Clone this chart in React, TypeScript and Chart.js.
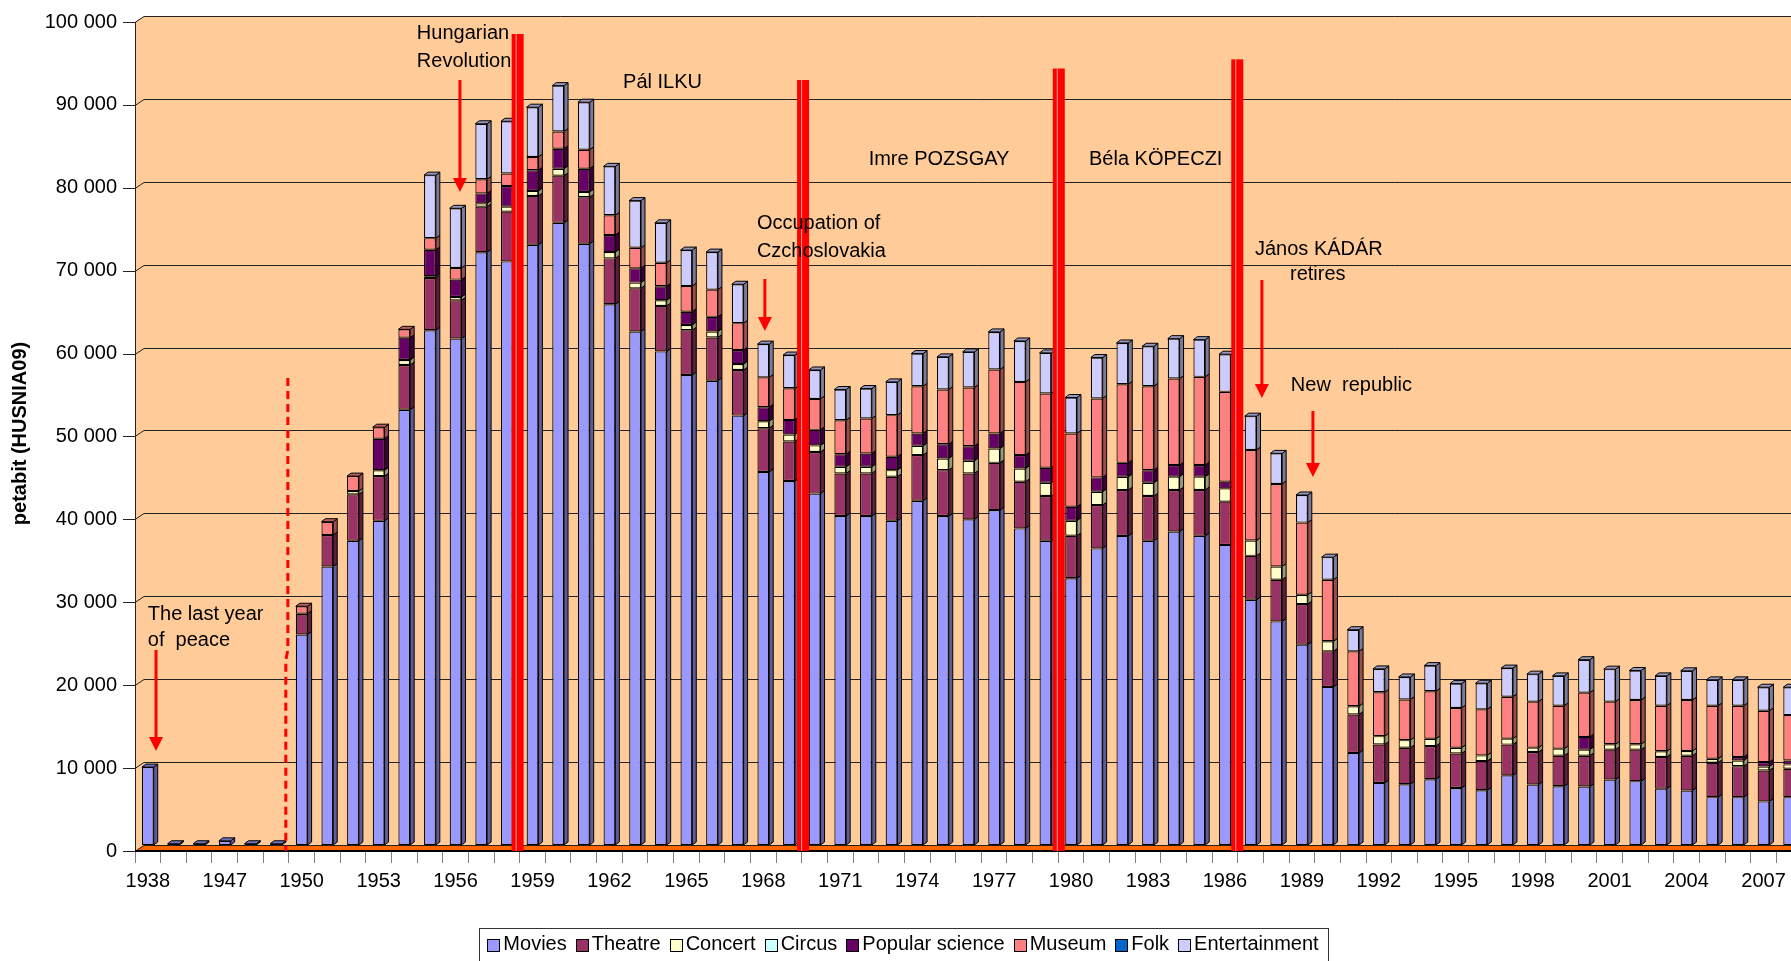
import React, { useEffect, useRef } from 'react';
import { Chart, registerables } from 'chart.js';

Chart.register(...registerables);

// ---------- data ----------
const categories = [
  '1938', '1945', '1946', '1947', '1948', '1949',
  '1950', '1951', '1952', '1953', '1954', '1955', '1956', '1957', '1958', '1959',
  '1960', '1961', '1962', '1963', '1964', '1965', '1966', '1967', '1968', '1969',
  '1970', '1971', '1972', '1973', '1974', '1975', '1976', '1977', '1978', '1979',
  '1980', '1981', '1982', '1983', '1984', '1985', '1986', '1987', '1988', '1989',
  '1990', '1991', '1992', '1993', '1994', '1995', '1996', '1997', '1998', '1999',
  '2000', '2001', '2002', '2003', '2004', '2005', '2006', '2007', '2008',
];

const movies = [
  9400, 150, 150, 500, 150, 150,
  25400, 33600, 36700, 39100, 52500, 62100, 61100, 71500, 70400, 72400,
  75050, 72530, 65230, 61940, 59540, 56690, 56010, 51800, 44990, 43910,
  42390, 39680, 39680, 39120, 41530, 39680, 39280, 40400, 38190, 36700,
  32170, 35780, 37270, 36700, 37810, 37290, 36200, 29580, 26970, 24170,
  19070, 11100, 7490, 7330, 7940, 6880, 6600, 8400, 7300, 7090,
  7050, 7900, 7700, 6800, 6580, 5770, 5770, 5260, 5770,
];

const theatre = [
  0, 0, 0, 0, 0, 0,
  2500, 3800, 5600, 5400, 5400, 6300, 4600, 5500, 6000, 5900,
  5690, 5610, 5530, 5210, 5490, 5410, 5210, 5490, 5290, 4770,
  5010, 5140, 5140, 5300, 5500, 5540, 5540, 5700, 5630, 5390,
  5140, 5220, 5540, 5390, 5010, 5530, 5220, 5300, 5020, 4890,
  4290, 4640, 4640, 4400, 3990, 4160, 3520, 3710, 3910, 3680,
  3720, 3600, 3800, 3810, 4190, 4150, 3740, 3730, 3420,
];

const concert = [
  0, 0, 0, 0, 0, 0,
  0, 0, 400, 700, 600, 200, 400, 400, 600, 600,
  840, 640, 760, 690, 680, 630, 720, 720, 840, 840,
  800, 800, 800, 800, 1120, 1410, 1530, 1730, 1600, 1600,
  1810, 1610, 1610, 1600, 1610, 1610, 1600, 1850, 1610, 1120,
  1210, 1000, 1000, 920, 880, 690, 690, 720, 530, 850,
  730, 650, 650, 690, 570, 480, 690, 480, 530,
];

const circus = [
  0, 0, 0, 0, 0, 0,
  0, 0, 0, 0, 0, 0, 0, 0, 0, 0,
  0, 0, 0, 0, 0, 0, 0, 0, 0, 0,
  0, 0, 0, 0, 0, 0, 0, 0, 0, 0,
  0, 0, 0, 0, 0, 0, 0, 0, 0, 0,
  0, 0, 0, 0, 0, 0, 0, 0, 0, 0,
  0, 0, 0, 0, 0, 0, 0, 0, 0,
];

const popularScience = [
  0, 0, 0, 0, 0, 0,
  0, 0, 0, 3800, 2700, 3200, 2100, 1200, 2500, 2500,
  2410, 2800, 2050, 1720, 1690, 1600, 1770, 1690, 1680, 1760,
  1880, 1530, 1610, 1610, 1490, 1720, 1760, 1810, 1610, 1810,
  1680, 1730, 1680, 1530, 1400, 1400, 810, 0, 0, 0,
  0, 0, 0, 0, 0, 0, 0, 0, 0, 0,
  1540, 0, 0, 0, 0, 0, 410, 530, 480,
];

const museum = [
  0, 0, 0, 0, 0, 0,
  900, 1600, 1800, 1400, 1000, 1400, 1400, 1700, 1500, 1600,
  2080, 2290, 2400, 2480, 2840, 3090, 3280, 3250, 3610, 3810,
  3730, 4090, 4220, 5020, 5700, 6590, 7070, 7710, 8830, 8960,
  8840, 9520, 9480, 10120, 10440, 10640, 10830, 10910, 9950, 8710,
  7420, 6620, 5300, 4900, 5740, 4810, 5550, 5060, 5550, 5180,
  5340, 5140, 5340, 5500, 6150, 6400, 6190, 6190, 5470,
];

const folk = [
  0, 0, 0, 0, 0, 0,
  0, 0, 0, 0, 0, 0, 0, 0, 0, 0,
  0, 0, 0, 0, 0, 0, 0, 0, 0, 0,
  0, 0, 0, 0, 0, 0, 0, 0, 0, 0,
  0, 0, 0, 0, 0, 0, 0, 0, 0, 0,
  0, 0, 0, 0, 0, 0, 0, 0, 0, 0,
  0, 0, 0, 0, 0, 0, 0, 0, 0,
];

const entertainment = [
  0, 0, 0, 0, 0, 0,
  0, 0, 0, 0, 0, 7600, 7200, 6700, 6300, 6000,
  5530, 5730, 5890, 5690, 4810, 4340, 4530, 4690, 4010, 4010,
  3490, 3700, 3610, 4010, 3940, 3940, 4300, 4540, 4940, 4900,
  4340, 4940, 4980, 4820, 4810, 4490, 4540, 4090, 3690, 3330,
  2730, 2610, 2810, 2720, 3090, 2930, 3150, 3450, 3320, 3600,
  3970, 3920, 3560, 3600, 3520, 3120, 3120, 2840, 3360,
];

const seriesNames = ['Movies', 'Theatre', 'Concert', 'Circus', 'Popular science', 'Museum', 'Folk', 'Entertainment'];
const seriesData = [movies, theatre, concert, circus, popularScience, museum, folk, entertainment];
const seriesColors = ['#9999FF', '#993366', '#FFFFCC', '#CCFFFF', '#660066', '#FF8080', '#0066CC', '#CCCCFF'];

const yTicks = [0, 10000, 20000, 30000, 40000, 50000, 60000, 70000, 80000, 90000, 100000];
const yTitle = 'petabit (HUSNIA09)';

// annotations: x in category index units, y in data units
const noteTexts = [
  { text: 'Hungarian', at: 10.49, value: 97950, align: 'left' },
  { text: 'Revolution', at: 10.49, value: 94570, align: 'left' },
  { text: 'Pál ILKU', at: 20.07, value: 92040, align: 'center' },
  { text: 'Imre POZSGAY', at: 30.85, value: 82750, align: 'center' },
  { text: 'Béla KÖPECZI', at: 39.3, value: 82750, align: 'center' },
  { text: 'Occupation of', at: 23.75, value: 75030, align: 'left' },
  { text: 'Czchoslovakia', at: 23.75, value: 71650, align: 'left' },
  { text: 'János KÁDÁR', at: 43.17, value: 71890, align: 'left' },
  { text: 'retires', at: 45.62, value: 68760, align: 'center' },
  { text: 'New  republic', at: 44.57, value: 55370, align: 'left' },
  { text: 'The last year', at: 0.0, value: 27860, align: 'left' },
  { text: 'of  peace', at: 0.0, value: 24610, align: 'left' },
];
const noteArrows = [
  { at: 12.17, from: 92280, to: 78770 },
  { at: 24.06, from: 68270, to: 62000 },
  { at: 43.44, from: 68150, to: 53920 },
  { at: 45.43, from: 52350, to: 44390 },
  { at: 0.32, from: 23520, to: 11340 },
];
const markerBars = [
  { at: 14.42, top: 97830 },
  { at: 25.55, top: 92280 },
  { at: 35.52, top: 93660 },
  { at: 42.48, top: 94770 },
];
const dashedMarker = { at: 5.46, atLow: 5.38, top: 56330, kink: 23520 };

// ---------- styling ----------
const FONT = "'Liberation Sans', Arial, Helvetica, sans-serif";
const Y_MIN = -724;
const Y_MAX = 100000;
const WALL_DX = 9;
const WALL_DY = 6;
const BAR_DX = 4;
const BAR_DY = 3;
const CANVAS_W = 1820;
const CANVAS_H = 980;

function shade(hex: string, f: number): string {
  const n = parseInt(hex.slice(1), 16);
  const r = Math.round(((n >> 16) & 255) * f);
  const g = Math.round(((n >> 8) & 255) * f);
  const b = Math.round((n & 255) * f);
  return `rgb(${r},${g},${b})`;
}

function fmt(v: number): string {
  return String(v).replace(/\B(?=(\d{3})+(?!\d))/g, ' ');
}

const wallPlugin = {
  id: 'wall3d',
  beforeDatasetsDraw(chart: any) {
    const { ctx, chartArea: a, scales } = chart;
    const y = scales.y;
    const right = a.right + WALL_DX;
    const topBack = y.getPixelForValue(Y_MAX);
    const topFront = topBack + WALL_DY;
    const floorBack = y.getPixelForValue(0);
    ctx.save();
    ctx.fillStyle = '#FFCC99';
    ctx.beginPath();
    ctx.moveTo(a.left, a.bottom);
    ctx.lineTo(a.left, topFront);
    ctx.lineTo(a.left + WALL_DX, topBack);
    ctx.lineTo(right, topBack);
    ctx.lineTo(right, a.bottom);
    ctx.closePath();
    ctx.fill();

    ctx.fillStyle = '#FF6600';
    ctx.beginPath();
    ctx.moveTo(a.left, a.bottom);
    ctx.lineTo(a.left + WALL_DX, floorBack);
    ctx.lineTo(right, floorBack);
    ctx.lineTo(right, a.bottom);
    ctx.closePath();
    ctx.fill();

    ctx.strokeStyle = '#222';
    ctx.lineWidth = 1;
    for (const v of yTicks) {
      const yb = Math.round(y.getPixelForValue(v)) + 0.5;
      const yf = yb + WALL_DY;
      ctx.beginPath();
      ctx.moveTo(a.left - 12, yf);
      ctx.lineTo(a.left, yf);
      ctx.lineTo(a.left + WALL_DX, yb);
      ctx.lineTo(right, yb);
      ctx.stroke();
    }
    ctx.beginPath();
    ctx.moveTo(a.left + 0.5, topFront);
    ctx.lineTo(a.left + 0.5, a.bottom);
    ctx.stroke();

    ctx.strokeStyle = '#000';
    ctx.lineWidth = 2;
    ctx.beginPath();
    ctx.moveTo(a.left, a.bottom);
    ctx.lineTo(right, a.bottom);
    ctx.stroke();
    ctx.restore();
  },
};

const facesPlugin = {
  id: 'faces3d',
  afterDatasetsDraw(chart: any) {
    const ctx = chart.ctx;
    const metas = seriesData.map((_, d) => chart.getDatasetMeta(d));
    ctx.save();
    ctx.lineWidth = 1;
    ctx.strokeStyle = '#000';
    metas.forEach((meta: any, d: number) => {
      meta.data.forEach((el: any) => {
        const p = el.getProps(['x', 'y', 'base', 'width'], true);
        const top = Math.min(p.y, p.base);
        const bot = Math.max(p.y, p.base);
        if (bot - top < 0.5) return;
        const r = p.x + p.width / 2;
        ctx.fillStyle = shade(seriesColors[d], 0.6);
        ctx.beginPath();
        ctx.moveTo(r, top);
        ctx.lineTo(r + BAR_DX, top - BAR_DY);
        ctx.lineTo(r + BAR_DX, bot - BAR_DY);
        ctx.lineTo(r, bot);
        ctx.closePath();
        ctx.fill();
        ctx.stroke();
      });
    });
    for (let i = 0; i < categories.length; i++) {
      let topD = -1;
      for (let d = 0; d < seriesData.length; d++) if (seriesData[d][i] > 0) topD = d;
      if (topD < 0) continue;
      const p = metas[topD].data[i].getProps(['x', 'y', 'base', 'width'], true);
      const t = Math.min(p.y, p.base);
      const l = p.x - p.width / 2;
      const r = p.x + p.width / 2;
      ctx.fillStyle = shade(seriesColors[topD], 0.75);
      ctx.beginPath();
      ctx.moveTo(l, t);
      ctx.lineTo(l + BAR_DX, t - BAR_DY);
      ctx.lineTo(r + BAR_DX, t - BAR_DY);
      ctx.lineTo(r, t);
      ctx.closePath();
      ctx.fill();
      ctx.stroke();
    }
    ctx.restore();
  },
};

const notesPlugin = {
  id: 'notes',
  afterDatasetsDraw(chart: any) {
    const { ctx, chartArea: a, scales } = chart;
    const xs = scales.x;
    const ys = scales.y;
    ctx.save();
    for (const m of markerBars) {
      const cx = xs.getPixelForValue(m.at);
      const t = ys.getPixelForValue(m.top);
      ctx.fillStyle = '#FF0000';
      ctx.fillRect(cx - 6, t, 12, a.bottom - t);
      ctx.fillStyle = '#FF9A9A';
      ctx.fillRect(cx - 2, t, 1, a.bottom - t);
    }
    ctx.strokeStyle = '#FF0000';
    ctx.lineWidth = 3;
    ctx.setLineDash([8, 5]);
    const dx1 = xs.getPixelForValue(dashedMarker.at);
    const dx2 = xs.getPixelForValue(dashedMarker.atLow);
    const ky = ys.getPixelForValue(dashedMarker.kink);
    ctx.beginPath();
    ctx.moveTo(dx1, ys.getPixelForValue(dashedMarker.top));
    ctx.lineTo(dx1, ky);
    ctx.lineTo(dx2, ky + 10);
    ctx.lineTo(dx2, a.bottom);
    ctx.stroke();
    ctx.setLineDash([]);
    for (const ar of noteArrows) {
      const x = xs.getPixelForValue(ar.at);
      const y1 = ys.getPixelForValue(ar.from);
      const y2 = ys.getPixelForValue(ar.to);
      ctx.strokeStyle = '#FF0000';
      ctx.lineWidth = 3;
      ctx.beginPath();
      ctx.moveTo(x, y1);
      ctx.lineTo(x, y2 - 12);
      ctx.stroke();
      ctx.fillStyle = '#FF0000';
      ctx.beginPath();
      ctx.moveTo(x - 7, y2 - 14);
      ctx.lineTo(x + 7, y2 - 14);
      ctx.lineTo(x, y2);
      ctx.closePath();
      ctx.fill();
    }
    ctx.fillStyle = '#000';
    ctx.font = `20px ${FONT}`;
    ctx.textBaseline = 'middle';
    for (const n of noteTexts) {
      ctx.textAlign = n.align as CanvasTextAlign;
      ctx.fillText(n.text, xs.getPixelForValue(n.at), ys.getPixelForValue(n.value));
    }
    ctx.restore();
  },
};

const LEGEND_CX = 903;
const LEGEND_TOP = 928;
const LEGEND_CY = 944;

const legendPlugin = {
  id: 'boxLegend',
  afterDraw(chart: any) {
    const ctx = chart.ctx;
    ctx.save();
    ctx.font = `20px ${FONT}`;
    const MARK = 12;
    const GAP = 4;
    const SEP = 9;
    const widths = seriesNames.map((s) => ctx.measureText(s).width);
    const total = widths.reduce((acc, w) => acc + MARK + GAP + w, 0) + SEP * (seriesNames.length - 1);
    let x = LEGEND_CX - total / 2;
    ctx.fillStyle = '#FFFFFF';
    ctx.fillRect(x - 8, LEGEND_TOP, total + 18, 60);
    ctx.strokeStyle = '#333';
    ctx.lineWidth = 1;
    ctx.strokeRect(Math.round(x - 8) + 0.5, LEGEND_TOP + 0.5, Math.round(total + 18), 60);
    ctx.textBaseline = 'middle';
    ctx.textAlign = 'left';
    seriesNames.forEach((name, i) => {
      const mx = Math.round(x) + 0.5;
      const my = Math.round(LEGEND_CY - MARK / 2 + 1) + 0.5;
      ctx.fillStyle = seriesColors[i];
      ctx.fillRect(mx, my, MARK, MARK);
      ctx.strokeStyle = '#000';
      ctx.strokeRect(mx, my, MARK, MARK);
      ctx.fillStyle = '#000';
      ctx.fillText(name, x + MARK + GAP, LEGEND_CY);
      x += MARK + GAP + widths[i] + SEP;
    });
    ctx.restore();
  },
};

export default function App() {
  const ref = useRef<HTMLCanvasElement>(null);
  useEffect(() => {
    if (!ref.current) return;
    const chart = new Chart(ref.current, {
      type: 'bar',
      data: {
        labels: categories,
        datasets: seriesNames.map((name, d) => ({
          label: name,
          data: seriesData[d],
          backgroundColor: seriesColors[d],
          borderColor: '#000',
          borderWidth: 1.2,
          borderSkipped: false,
          barPercentage: 0.46,
          categoryPercentage: 1,
        })),
      },
      options: {
        responsive: false,
        animation: false,
        devicePixelRatio: 1,
        layout: { padding: { left: 0, top: 16, right: 18, bottom: 84 } },
        plugins: {
          legend: { display: false },
          tooltip: { enabled: false },
        },
        scales: {
          x: {
            type: 'category',
            stacked: true,
            offset: true,
            afterFit: (s: any) => {
              s.height = 45;
              s.paddingLeft = 0;
              s.paddingRight = 0;
              s.paddingTop = 0;
              s.paddingBottom = 0;
            },
            grid: {
              display: true,
              drawOnChartArea: false,
              drawTicks: true,
              tickLength: 12,
              tickColor: '#808080',
              offset: true,
            },
            border: { display: false },
            ticks: {
              autoSkip: false,
              maxRotation: 0,
              minRotation: 0,
              padding: 6,
              color: '#000',
              font: { family: FONT, size: 20 },
              callback: (_v: any, idx: number) => (idx % 3 === 0 ? categories[idx] : ''),
            },
          },
          y: {
            type: 'linear',
            stacked: true,
            min: Y_MIN,
            max: Y_MAX,
            afterBuildTicks: (s: any) => { s.ticks = yTicks.map((v) => ({ value: v })); },
            afterFit: (s: any) => {
              s.width = 135;
              s.paddingTop = 0;
              s.paddingBottom = 0;
              s.paddingLeft = 0;
              s.paddingRight = 0;
            },
            grid: { display: false, drawTicks: false },
            border: { display: false },
            ticks: {
              padding: 18,
              labelOffset: WALL_DY,
              color: '#000',
              font: { family: FONT, size: 20 },
              callback: (v: any) => fmt(Number(v)),
            },
            title: {
              display: true,
              text: yTitle,
              color: '#000',
              font: { family: FONT, size: 20, weight: 'bold' },
              padding: { top: 8, bottom: 0 },
            },
          },
        },
      } as any,
      plugins: [wallPlugin, facesPlugin, notesPlugin, legendPlugin],
    });
    return () => chart.destroy();
  }, []);
  return (
    <div style={{ position: 'absolute', left: 0, top: 0, width: 1791, height: 961, overflow: 'hidden', background: '#fff' }}>
      <canvas ref={ref} width={CANVAS_W} height={CANVAS_H} style={{ display: 'block', width: CANVAS_W, height: CANVAS_H }} />
    </div>
  );
}
